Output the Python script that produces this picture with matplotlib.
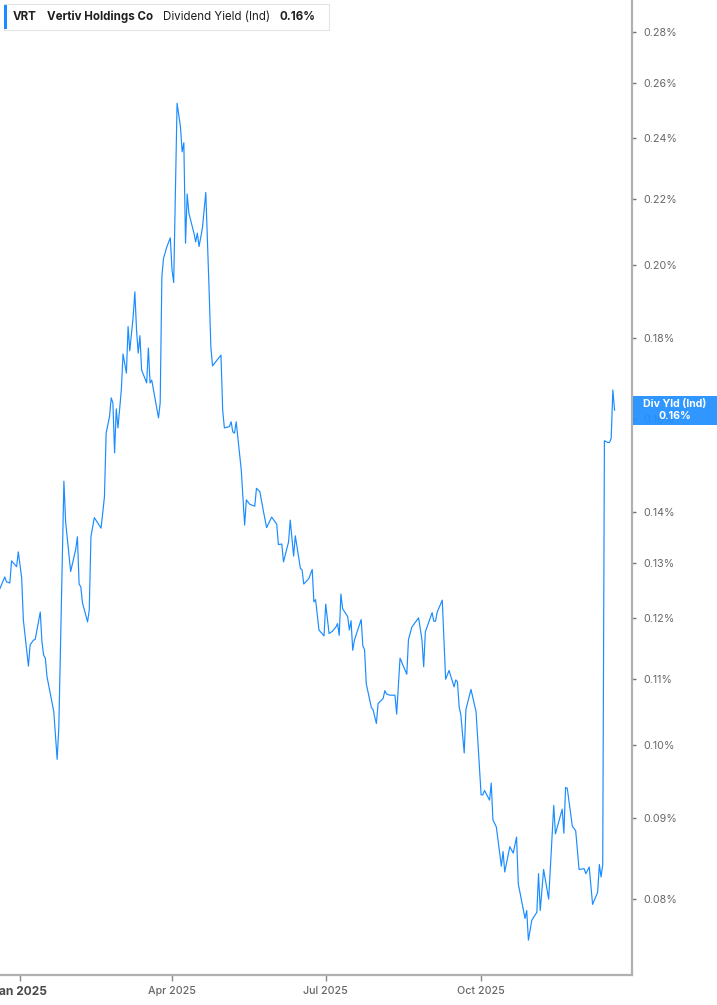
import matplotlib
matplotlib.use("Agg")
import matplotlib.pyplot as plt
from matplotlib.ticker import NullLocator, NullFormatter, FixedLocator, FixedFormatter
from matplotlib.patches import Rectangle
import pandas as pd

plt.rcParams['font.family'] = ['Inter', 'DejaVu Sans']

dates = [
    "2024-12-20", "2024-12-23", "2024-12-24", "2024-12-26", "2024-12-27", "2024-12-30", "2024-12-31",
    "2025-01-02", "2025-01-03", "2025-01-06", "2025-01-07", "2025-01-09", "2025-01-10", "2025-01-13",
    "2025-01-14", "2025-01-15", "2025-01-16", "2025-01-17", "2025-01-21", "2025-01-23", "2025-01-24",
    "2025-01-27", "2025-01-28", "2025-01-31", "2025-02-03", "2025-02-04", "2025-02-05", "2025-02-06",
    "2025-02-07", "2025-02-10", "2025-02-11", "2025-02-12", "2025-02-14", "2025-02-18", "2025-02-20",
    "2025-02-21", "2025-02-23", "2025-02-24", "2025-02-25", "2025-02-26", "2025-02-27", "2025-02-28",
    "2025-03-02", "2025-03-03", "2025-03-05", "2025-03-06", "2025-03-07", "2025-03-09", "2025-03-10",
    "2025-03-11", "2025-03-12", "2025-03-13", "2025-03-14", "2025-03-17", "2025-03-18", "2025-03-19",
    "2025-03-20", "2025-03-24", "2025-03-25", "2025-03-26", "2025-03-27", "2025-03-29", "2025-03-31",
    "2025-04-01", "2025-04-02", "2025-04-04", "2025-04-06", "2025-04-07", "2025-04-08", "2025-04-09",
    "2025-04-10", "2025-04-11", "2025-04-14", "2025-04-15", "2025-04-16", "2025-04-17", "2025-04-19",
    "2025-04-21", "2025-04-23", "2025-04-24", "2025-04-25", "2025-04-28", "2025-04-30", "2025-05-01",
    "2025-05-02", "2025-05-05", "2025-05-06", "2025-05-07", "2025-05-08", "2025-05-09", "2025-05-12",
    "2025-05-14", "2025-05-15", "2025-05-17", "2025-05-20", "2025-05-21", "2025-05-23", "2025-05-25",
    "2025-05-27", "2025-05-30", "2025-06-02", "2025-06-03", "2025-06-05", "2025-06-06", "2025-06-09",
    "2025-06-10", "2025-06-12", "2025-06-13", "2025-06-16", "2025-06-17", "2025-06-18", "2025-06-21",
    "2025-06-23", "2025-06-24", "2025-06-25", "2025-06-27", "2025-06-30", "2025-07-01", "2025-07-03",
    "2025-07-05", "2025-07-07", "2025-07-08", "2025-07-09", "2025-07-10", "2025-07-11", "2025-07-14",
    "2025-07-15", "2025-07-16", "2025-07-17", "2025-07-18", "2025-07-22", "2025-07-23", "2025-07-24",
    "2025-07-25", "2025-07-28", "2025-07-29", "2025-07-31", "2025-08-01", "2025-08-04", "2025-08-05",
    "2025-08-06", "2025-08-08", "2025-08-11", "2025-08-12", "2025-08-14", "2025-08-18", "2025-08-19",
    "2025-08-21", "2025-08-23", "2025-08-25", "2025-08-27", "2025-08-28", "2025-08-29", "2025-09-02",
    "2025-09-03", "2025-09-04", "2025-09-05", "2025-09-08", "2025-09-10", "2025-09-12", "2025-09-15",
    "2025-09-16", "2025-09-17", "2025-09-18", "2025-09-19", "2025-09-21", "2025-09-22", "2025-09-25",
    "2025-09-28", "2025-10-01", "2025-10-02", "2025-10-03", "2025-10-06", "2025-10-07", "2025-10-08",
    "2025-10-10", "2025-10-13", "2025-10-14", "2025-10-15", "2025-10-18", "2025-10-20", "2025-10-22",
    "2025-10-23", "2025-10-27", "2025-10-28", "2025-10-29", "2025-10-31", "2025-11-03", "2025-11-04",
    "2025-11-05", "2025-11-07", "2025-11-10", "2025-11-13", "2025-11-14", "2025-11-18", "2025-11-19",
    "2025-11-20", "2025-11-21", "2025-11-24", "2025-11-26", "2025-11-28", "2025-12-01", "2025-12-02",
    "2025-12-04", "2025-12-06", "2025-12-09", "2025-12-10", "2025-12-11", "2025-12-12", "2025-12-13",
    "2025-12-15", "2025-12-16", "2025-12-17", "2025-12-18", "2025-12-19",
]

yield_pct = [
    0.1252, 0.1274, 0.1265, 0.1263, 0.1304, 0.1293, 0.1321,
    0.1272, 0.1197, 0.1120, 0.1155, 0.1163, 0.1164, 0.1211,
    0.1160, 0.1138, 0.1133, 0.1103, 0.1049, 0.0979, 0.1026,
    0.1463, 0.1380, 0.1284, 0.1326, 0.1350, 0.1261, 0.1256,
    0.1227, 0.1194, 0.1214, 0.1350, 0.1388, 0.1367, 0.1430,
    0.1568, 0.1606, 0.1650, 0.1638, 0.1524, 0.1624, 0.1580,
    0.1669, 0.1758, 0.1710, 0.1829, 0.1766, 0.1855, 0.1923,
    0.1820, 0.1760, 0.1805, 0.1718, 0.1686, 0.1773, 0.1686,
    0.1693, 0.1603, 0.1638, 0.1966, 0.2019, 0.2053, 0.2079,
    0.1985, 0.1949, 0.2525, 0.2441, 0.2354, 0.2385, 0.2063,
    0.2215, 0.2154, 0.2093, 0.2067, 0.2093, 0.2053, 0.2108,
    0.2220, 0.1923, 0.1776, 0.1728, 0.1744, 0.1755, 0.1621,
    0.1580, 0.1583, 0.1594, 0.1571, 0.1568, 0.1594, 0.1487,
    0.1373, 0.1424, 0.1415, 0.1411, 0.1448, 0.1441, 0.1403,
    0.1368, 0.1389, 0.1375, 0.1335, 0.1336, 0.1302, 0.1340,
    0.1383, 0.1313, 0.1352, 0.1290, 0.1287, 0.1261, 0.1271,
    0.1288, 0.1229, 0.1233, 0.1180, 0.1170, 0.1225, 0.1174,
    0.1178, 0.1185, 0.1191, 0.1171, 0.1243, 0.1217, 0.1203,
    0.1180, 0.1196, 0.1146, 0.1163, 0.1198, 0.1153, 0.1147,
    0.1092, 0.1055, 0.1052, 0.1031, 0.1061, 0.1069, 0.1081,
    0.1076, 0.1074, 0.1074, 0.1045, 0.1133, 0.1107, 0.1164,
    0.1185, 0.1193, 0.1201, 0.1163, 0.1119, 0.1177, 0.1210,
    0.1195, 0.1195, 0.1211, 0.1232, 0.1099, 0.1113, 0.1087,
    0.1098, 0.1095, 0.1056, 0.1044, 0.0988, 0.1052, 0.1083,
    0.1049, 0.0930, 0.0930, 0.0936, 0.0923, 0.0946, 0.0897,
    0.0888, 0.0839, 0.0857, 0.0832, 0.0863, 0.0855, 0.0875,
    0.0818, 0.0778, 0.0787, 0.0754, 0.0776, 0.0785, 0.0830,
    0.0787, 0.0835, 0.0800, 0.0916, 0.0879, 0.0911, 0.0880,
    0.0940, 0.0939, 0.0889, 0.0883, 0.0835, 0.0836, 0.0830,
    0.0838, 0.0794, 0.0808, 0.0841, 0.0826, 0.0841, 0.1551,
    0.1547, 0.1547, 0.1556, 0.1669, 0.1621,
]

ytick_vals = [0.08, 0.09, 0.10, 0.11, 0.12, 0.13, 0.14, 0.16, 0.18, 0.20, 0.22, 0.24, 0.26, 0.28]
ytick_labels = ["0.08%", "0.09%", "0.10%", "0.11%", "0.12%", "0.13%", "0.14%",
                "0.16%", "0.18%", "0.20%", "0.22%", "0.24%", "0.26%", "0.28%"]
xtick_dates = ["2025-01-01", "2025-04-01", "2025-07-01", "2025-10-01"]
xtick_labels = ["Jan 2025", "Apr 2025", "Jul 2025", "Oct 2025"]

ticker = "VRT"
company = "Vertiv Holdings Co"
metric = "Dividend Yield (Ind)"
last_label = "0.16%"
side_label = "Div Yld (Ind)"

LINE = "#1a8cff"
W, H = 717, 1005

fig = plt.figure(figsize=(W / 100, H / 100), dpi=100)
fig.patch.set_facecolor("white")
ax = fig.add_axes([0, 30 / H, 632 / W, 975 / H])

ax.plot(pd.to_datetime(dates), yield_pct, color=LINE, lw=0.85, zorder=3)

ax.set_yscale("log")
ax.set_ylim(0.0717, 0.2931)
ax.set_xlim(pd.Timestamp("2024-12-20 04:00"), pd.Timestamp("2025-12-29 08:00"))

ax.yaxis.tick_right()
ax.yaxis.set_major_locator(FixedLocator(ytick_vals))
ax.yaxis.set_major_formatter(FixedFormatter(ytick_labels))
ax.yaxis.set_minor_locator(NullLocator())
ax.yaxis.set_minor_formatter(NullFormatter())

ax.set_xticks(pd.to_datetime(xtick_dates))
ax.set_xticklabels(xtick_labels)
ax.xaxis.set_minor_locator(NullLocator())

ax.tick_params(axis="y", which="major", direction="out", length=3, width=1,
               color="#777777", labelcolor="#666666", labelsize=7.7, pad=5)
ax.tick_params(axis="x", which="major", direction="out", length=4, width=1,
               color="#888888", labelcolor="#666666", labelsize=7.7, pad=4)
xl = ax.get_xticklabels()
xl[0].set_fontweight("bold")
xl[0].set_color("#4a4a4a")
xl[0].set_fontsize(8.6)
for t in xl[1:]:
    t.set_fontweight("medium")

for s in ["top", "left"]:
    ax.spines[s].set_visible(False)
for s in ["right", "bottom"]:
    ax.spines[s].set_color("#b0b0b0")
    ax.spines[s].set_linewidth(1.6)

# header box
fig.patches.append(Rectangle((4 / W, 1 - 30 / H), 325 / W, 26 / H, transform=fig.transFigure,
                             facecolor="white", edgecolor="#e4e4e4", lw=0.8, zorder=5))
fig.patches.append(Rectangle((4 / W, 1 - 29 / H), 3 / W, 24 / H, transform=fig.transFigure,
                             facecolor=LINE, edgecolor="none", zorder=6))
ty = 1 - 16.5 / H
hs = 8.3
fig.text(13 / W, ty, ticker, fontsize=hs, fontweight="bold", color="#1f1f1f", va="center", zorder=7)
fig.text(47 / W, ty, company, fontsize=hs, fontweight="bold", color="#1f1f1f", va="center", zorder=7)
fig.text(163 / W, ty, metric, fontsize=hs, color="#1f1f1f", va="center", zorder=7)
fig.text(280 / W, ty, last_label, fontsize=hs, fontweight="bold", color="#1f1f1f", va="center", zorder=7)

# right-side value label
fig.patches.append(Rectangle((633 / W, 1 - 425 / H), 84 / W, 28.5 / H, transform=fig.transFigure,
                             facecolor="#1f8fff", edgecolor="none", alpha=0.93, zorder=5))
fig.text(675 / W, 1 - 404 / H, side_label, fontsize=7.6, fontweight="bold", color="white",
         ha="center", va="center", zorder=7)
fig.text(675 / W, 1 - 416 / H, last_label, fontsize=7.6, fontweight="bold", color="white",
         ha="center", va="center", zorder=7)

fig.savefig("out.png", dpi=100, facecolor="white")
